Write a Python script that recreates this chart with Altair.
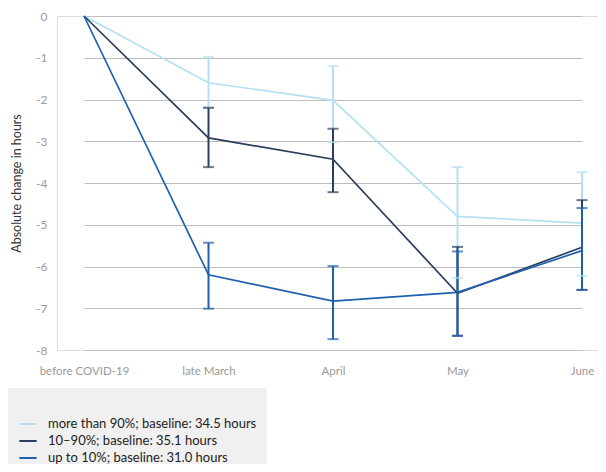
import altair as alt
import pandas as pd

periods = ["before COVID-19", "late March", "April", "May", "June"]
series = [
    "more than 90%; baseline: 34.5 hours",
    "10–90%; baseline: 35.1 hours",
    "up to 10%; baseline: 31.0 hours",
]
colors = ["#b5e0f4", "#2c3e5e", "#1f60ae"]

vals_high = [0, -1.60, -2.02, -4.80, -4.96]
lo_high = [None, -2.18, -3.02, -6.27, -6.22]
hi_high = [None, -0.98, -1.20, -3.62, -3.74]

vals_mid = [0, -2.92, -3.43, -6.64, -5.54]
lo_mid = [None, -3.62, -4.22, -7.66, -6.56]
hi_mid = [None, -2.20, -2.70, -5.53, -4.41]

vals_low = [0, -6.20, -6.83, -6.62, -5.62]
lo_low = [None, -7.01, -7.74, -7.66, -6.56]
hi_low = [None, -5.43, -5.99, -5.64, -4.60]

rows = []
for s, v, lo, hi in zip(series, [vals_high, vals_mid, vals_low],
                        [lo_high, lo_mid, lo_low], [hi_high, hi_mid, hi_low]):
    for i, p in enumerate(periods):
        rows.append({"period": p, "series": s, "value": v[i], "lo": lo[i], "hi": hi[i], "order": i})
df = pd.DataFrame(rows)
err = df.dropna(subset=["lo"])

FONT = "Lato"

x = alt.X("period:O", sort=periods,
          scale=alt.Scale(type="point", range=[27, 525], padding=0),
          axis=alt.Axis(title=None, labelAngle=0, labelColor="#9a9a9a", labelFontSize=11.5,
                        labelFont=FONT, ticks=False, domain=False, labelPadding=15, grid=False))
cscale = alt.Scale(domain=series, range=colors)
color = alt.Color("series:N", sort=series, scale=cscale,
                  legend=alt.Legend(title=" ", orient="none", legendX=-49, legendY=372,
                                    fillColor="#f0f0f0", padding=10, titleFontSize=12,
                                    titlePadding=4, labelFont=FONT, labelFontSize=13,
                                    labelColor="#222", symbolType="stroke", symbolSize=300,
                                    symbolStrokeWidth=2, rowPadding=0, labelOffset=10,
                                    labelLimit=400))
ncolor = alt.Color("series:N", sort=series, scale=cscale, legend=None)

y_scale = alt.Scale(domain=[-8, 0], nice=False, zero=False)

base = alt.Chart(df)
lines = base.mark_line(strokeWidth=1.7).encode(
    x=x,
    y=alt.Y("value:Q", scale=y_scale,
            axis=alt.Axis(title="Absolute change in hours", values=list(range(-8, 1)),
                          labelExpr="toString(datum.value)",
                          labelColor="#9a9a9a", labelFontSize=12, labelFont=FONT,
                          ticks=False, domain=False, labelPadding=10,
                          gridColor="#bdbdbd", gridWidth=1.2,
                          titleFont=FONT, titleFontSize=12.5, titleFontWeight="normal",
                          titleColor="#333", titleX=-37, titleY=167,
                          titleAlign="center", titleBaseline="alphabetic")),
    color=color,
    order="order:Q",
)

ebase = alt.Chart(err)
rules = ebase.mark_rule(strokeWidth=2).encode(
    x=x, y=alt.Y("lo:Q", scale=y_scale), y2="hi:Q", color=ncolor)
cap_lo = ebase.mark_tick(thickness=2, size=11).encode(
    x=x, y=alt.Y("lo:Q", scale=y_scale), color=ncolor)
cap_hi = ebase.mark_tick(thickness=2, size=11).encode(
    x=x, y=alt.Y("hi:Q", scale=y_scale), color=ncolor)

chart = alt.layer(lines, rules, cap_lo, cap_hi).properties(
    width=541, height=334,
    autosize=alt.AutoSizeParams(type="none"),
    padding={"left": 49, "top": 8, "right": 0, "bottom": 114},
).configure_view(stroke=None).configure(font=FONT)

chart.save("out.html", embed_options={"renderer": "svg", "actions": False})
